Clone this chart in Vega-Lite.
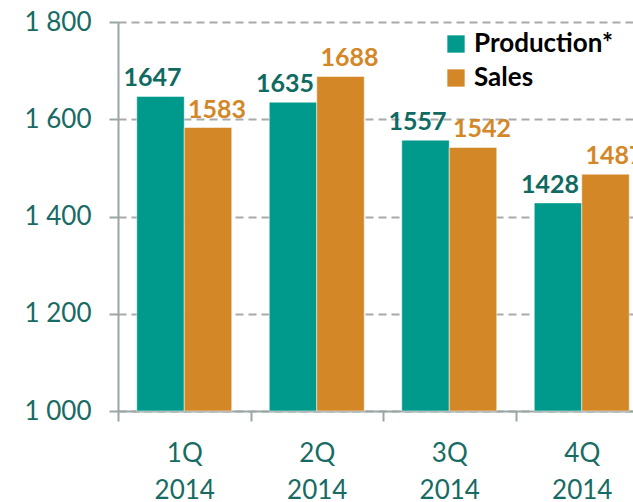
{
  "$schema": "https://vega.github.io/schema/vega-lite/v6.json",
  "autosize": {"type": "none"},
  "padding": {"left": 118, "top": 22, "right": 0, "bottom": 91},
  "width": 530,
  "height": 389,
  "background": "white",
  "config": {"view": {"stroke": null}, "font": "Lato"},
  "data": {"values": [
    {"q": "1Q 2014", "series": "Production*", "value": 1647},
    {"q": "1Q 2014", "series": "Sales", "value": 1583},
    {"q": "2Q 2014", "series": "Production*", "value": 1635},
    {"q": "2Q 2014", "series": "Sales", "value": 1688},
    {"q": "3Q 2014", "series": "Production*", "value": 1557},
    {"q": "3Q 2014", "series": "Sales", "value": 1542},
    {"q": "4Q 2014", "series": "Production*", "value": 1428},
    {"q": "4Q 2014", "series": "Sales", "value": 1487}
  ]},
  "encoding": {
    "x": {"field": "q", "type": "nominal", "sort": null,
      "scale": {"paddingInner": 0, "paddingOuter": 0},
      "axis": {"title": null, "labelAngle": 0, "labelExpr": "split(datum.label, ' ')",
        "labelFontSize": 26, "labelColor": "#176B64", "labelLineHeight": 37, "labelPadding": 19,
        "domainColor": "#9AA5A5", "domainWidth": 2, "tickColor": "#9AA5A5", "tickWidth": 2, "tickSize": 10,
        "tickBand": "extent", "grid": false}},
    "xOffset": {"field": "series", "type": "nominal", "sort": ["Production*", "Sales"], "scale": {"paddingInner": 0, "paddingOuter": 0.395}},
    "y": {"field": "value", "type": "quantitative",
      "scale": {"domain": [1000, 1800], "zero": false, "nice": false},
      "axis": {"title": null, "values": [1000, 1200, 1400, 1600, 1800],
        "labelExpr": "replace(format(datum.value, ','), ',', ' ')",
        "labelFontSize": 26, "labelColor": "#176B64", "labelPadding": 18,
        "domainColor": "#9AA5A5", "domainWidth": 2, "tickColor": "#9AA5A5", "tickWidth": 2, "tickSize": 9,
        "grid": true, "gridColor": "#AAAAAA", "gridWidth": 2, "gridDash": [8, 5]}}
  },
  "layer": [
    {
      "mark": {"type": "bar", "stroke": "white", "strokeWidth": 0.5},
      "encoding": {
        "y2": {"datum": 1000},
        "color": {"field": "series", "type": "nominal",
          "scale": {"domain": ["Production*", "Sales"], "range": ["#009A8C", "#D48726"]},
          "legend": {"title": null, "orient": "none", "legendX": 325, "legendY": 9,
            "symbolType": "square", "symbolSize": 300, "symbolStrokeWidth": 0,
            "labelFontSize": 26, "labelFontWeight": "bold", "labelOffset": 5, "rowPadding": 8,
            "labelLimit": 300,
            "encode": {"labels": {"update": {"fill": {"signal": "datum.value === 'Sales' ? '#D48726' : '#0F6A62'"}}}}}}
      }
    },
    {
      "transform": [{"filter": "datum.series === 'Production*'"}],
      "mark": {"type": "text", "fontSize": 25, "fontWeight": "bold", "baseline": "alphabetic", "dy": -10, "dx": -8, "color": "#0F6A62"},
      "encoding": {
        "text": {"field": "value", "type": "quantitative", "format": "d"}
      }
    },
    {
      "transform": [{"filter": "datum.series === 'Sales'"}],
      "mark": {"type": "text", "fontSize": 25, "fontWeight": "bold", "baseline": "alphabetic", "dy": -10, "dx": 9, "color": "#D48726"},
      "encoding": {
        "text": {"field": "value", "type": "quantitative", "format": "d"}
      }
    }
  ]
}
